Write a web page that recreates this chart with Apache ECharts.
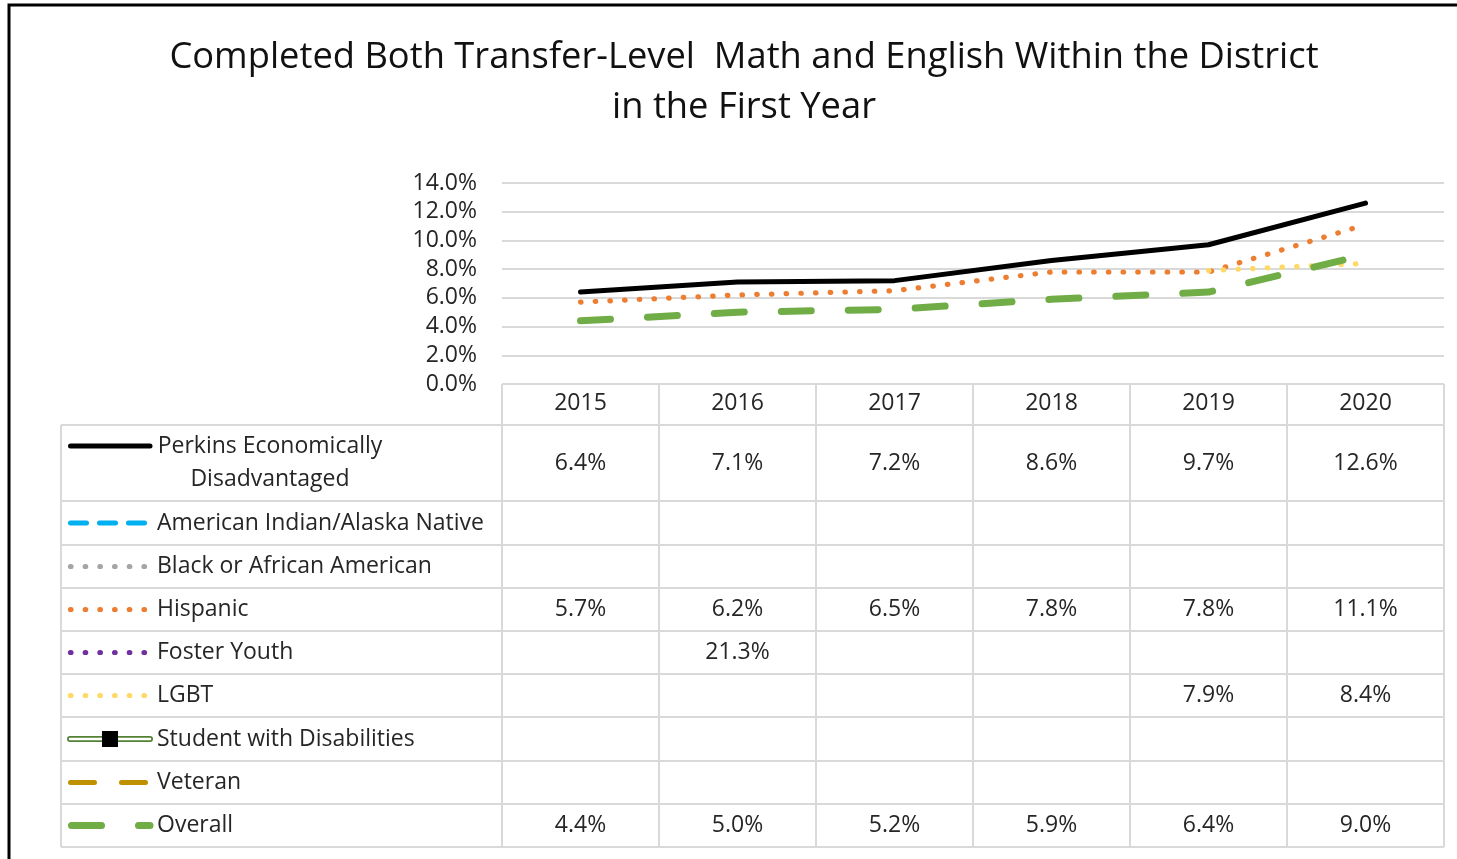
<!DOCTYPE html>
<html>
<head>
<meta charset="utf-8">
<script src="https://cdn.jsdelivr.net/npm/echarts@6/dist/echarts.min.js"></script>
<style>
  html, body { margin: 0; padding: 0; background: #fff; }
  #chart { width: 1457px; height: 859px; }
</style>
</head>
<body>
<div id="chart"></div>
<script>
// ---- data ----
const years = ['2015', '2016', '2017', '2018', '2019', '2020'];
const perkins = [6.4, 7.1, 7.2, 8.6, 9.7, 12.6];
const amIndian = [null, null, null, null, null, null];
const blackAfAm = [null, null, null, null, null, null];
const hispanic = [5.7, 6.2, 6.5, 7.8, 7.8, 11.1];
const fosterYouth = [null, 21.3, null, null, null, null];
const lgbt = [null, null, null, null, 7.9, 8.4];
const disabilities = [null, null, null, null, null, null];
const veteran = [null, null, null, null, null, null];
const overall = [4.4, 5.0, 5.2, 5.9, 6.4, 9.0];

const yMin = 0, yMax = 14, yStep = 2;

const seriesNames = [
  'Perkins Economically Disadvantaged', 'American Indian/Alaska Native',
  'Black or African American', 'Hispanic', 'Foster Youth', 'LGBT',
  'Student with Disabilities', 'Veteran', 'Overall'
];
const rowLabels = [
  'Perkins Economically\nDisadvantaged', 'American Indian/Alaska Native',
  'Black or African American', 'Hispanic', 'Foster Youth', 'LGBT',
  'Student with Disabilities', 'Veteran', 'Overall'
];
const seriesData = [perkins, amIndian, blackAfAm, hispanic, fosterYouth, lgbt, disabilities, veteran, overall];

// line looks (Excel style)
const looks = [
  { color: '#000000', width: 5, dash: 'solid' },
  { color: '#00B0F0', width: 5, dash: [16, 13] },
  { color: '#A5A5A5', width: 5.2, dash: [0.5, 14.2] },
  { color: '#ED7D31', width: 5.2, dash: [0.5, 14.2] },
  { color: '#7030A0', width: 5.2, dash: [0.5, 14.2] },
  { color: '#FFD966', width: 5.2, dash: [0.5, 14.2] },
  { color: '#548235', width: 5, dash: 'solid' },
  { color: '#BF9000', width: 5, dash: [24, 27] },
  { color: '#70AD47', width: 7, dash: [30, 37] }
];

const FONT = '"Open Sans", "Noto Sans", sans-serif';
const TXT = '#262626';
const GRIDC = '#D9D9D9';
const FS = 23;

const chart = echarts.init(document.getElementById('chart'));

chart.setOption({
  backgroundColor: '#ffffff',
  animation: false,
  title: {
    text: 'Completed Both Transfer-Level  Math and English Within the District\nin the First Year',
    left: 744,
    top: 33,
    padding: 0,
    textAlign: 'center',
    textStyle: { fontFamily: FONT, fontSize: 36.3, fontWeight: 'normal', color: '#111', lineHeight: 50 }
  },
  grid: { left: 502, right: 13, top: 183, height: 201 },
  xAxis: {
    type: 'category',
    data: years,
    boundaryGap: true,
    axisLine: { show: false },
    axisTick: { show: false },
    axisLabel: { margin: 8, fontFamily: FONT, fontSize: FS, color: TXT }
  },
  yAxis: {
    type: 'value',
    min: yMin, max: yMax, interval: yStep,
    axisLine: { show: false },
    axisTick: { show: false },
    splitLine: { lineStyle: { color: GRIDC, width: 2 } },
    axisLabel: {
      margin: 25, fontFamily: FONT, fontSize: FS, color: TXT,
      formatter: v => v.toFixed(1) + '%'
    }
  },
  series: seriesNames.map((name, i) => ({
    name: name,
    type: 'line',
    data: seriesData[i],
    showSymbol: false,
    symbol: 'none',
    clip: true,
    lineStyle: { color: looks[i].color, width: looks[i].width, type: looks[i].dash, cap: 'round', join: 'round' },
    z: 2 + i
  }))
});

// ---- data table under the plot ----
function buildTable() {
  const xs = years.map(y => chart.convertToPixel({ xAxisIndex: 0 }, y));
  const colW = xs[1] - xs[0];
  const left0 = xs[0] - colW / 2;
  const right0 = xs[xs.length - 1] + colW / 2;
  const yTop = chart.convertToPixel({ yAxisIndex: 0 }, yMin);
  const tableLeft = 61;
  const headerH = 41;
  const rowH = [76, 44, 43, 43, 43, 43, 44, 43, 43];
  const rowTops = [yTop + headerH];
  rowH.forEach((h, i) => rowTops.push(rowTops[i] + h));
  const bottom = rowTops[rowTops.length - 1];

  const g = [];
  const ln = (x1, y1, x2, y2) => g.push({
    type: 'line', silent: true, z: 1,
    shape: { x1, y1, x2, y2 },
    style: { stroke: GRIDC, lineWidth: 2 }
  });
  // horizontal borders
  ln(left0, yTop, right0, yTop);
  rowTops.forEach(t => ln(tableLeft, t, right0, t));
  // vertical borders
  for (let k = 0; k <= years.length; k++) {
    const x = left0 + k * colW;
    ln(x, yTop, x, bottom);
  }
  ln(tableLeft, rowTops[0], tableLeft, bottom);

  seriesNames.forEach((name, i) => {
    const cy = rowTops[i] + rowH[i] / 2;
    const lk = looks[i];
    const ky = i === 0 ? cy - 17 : cy;
    // legend key
    if (i === 6) {
      g.push({ type: 'line', silent: true, z: 5, shape: { x1: 70, y1: ky, x2: 150, y2: ky },
        style: { stroke: lk.color, lineWidth: 6, lineCap: 'round' } });
      g.push({ type: 'line', silent: true, z: 6, shape: { x1: 70, y1: ky, x2: 150, y2: ky },
        style: { stroke: '#ffffff', lineWidth: 2.5, lineCap: 'round' } });
      g.push({ type: 'rect', silent: true, z: 7, shape: { x: 102, y: ky - 8, width: 16, height: 16 },
        style: { fill: '#000000' } });
    } else {
      const x1 = i === 8 ? 71.5 : 70.5;
      g.push({ type: 'line', silent: true, z: 5, shape: { x1: x1, y1: ky, x2: 150, y2: ky },
        style: {
          stroke: lk.color, lineWidth: lk.width, lineCap: 'round',
          lineDash: lk.dash === 'solid' ? null : lk.dash
        } });
    }
    // row label
    g.push({
      type: 'text', silent: true, z: 5,
      x: i === 0 ? 270 : 157, y: cy,
      style: {
        text: rowLabels[i], font: FS + 'px ' + FONT, fill: TXT,
        align: i === 0 ? 'center' : 'left', verticalAlign: 'middle', lineHeight: 33
      }
    });
    // values
    seriesData[i].forEach((v, j) => {
      if (v == null) return;
      g.push({
        type: 'text', silent: true, z: 5,
        x: xs[j], y: cy,
        style: { text: v.toFixed(1) + '%', font: FS + 'px ' + FONT, fill: TXT, align: 'center', verticalAlign: 'middle' }
      });
    });
  });

  // outer chart border (right and bottom fall outside the picture)
  g.push({ type: 'rect', silent: true, z: 0,
    shape: { x: 9, y: 5, width: 1470, height: 880 },
    style: { fill: null, stroke: '#000000', lineWidth: 3 } });

  chart.setOption({ graphic: g });
}
buildTable();
</script>
</body>
</html>
